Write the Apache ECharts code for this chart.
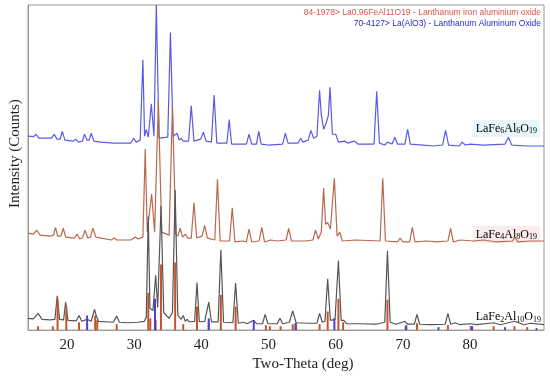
<!DOCTYPE html>
<html><head><meta charset="utf-8">
<script src="https://cdn.jsdelivr.net/npm/echarts@6/dist/echarts.min.js"></script>
<style>html,body{margin:0;padding:0;background:#fff}#c{width:550px;height:377px}</style>
</head><body><div id="c"></div>
<script>
// ---- data (2θ in deg, intensity in counts) ----
const xTicks = [20, 30, 40, 50, 60, 70, 80];
const offsets = { black: 0, red: 900, blue: 1870 };

const blackPattern = [[14.2,120],[15.0,115],[15.7,170],[16.3,110],[17.5,105],[18.2,110],[18.55,350],[18.9,110],[19.5,105],[19.8,285],[20.15,100],[21.4,95],[21.8,150],[22.2,90],[23.0,110],[23.6,90],[24.1,210],[24.35,150],[24.7,90],[26.9,80],[27.4,145],[27.8,80],[29,75],[30.5,80],[31.5,90],[31.8,130],[32.1,1160],[32.35,220],[32.55,230],[32.8,200],[33.2,560],[33.5,230],[34.0,1270],[34.4,180],[35.2,120],[35.7,180],[36.1,1430],[36.5,150],[37.0,110],[37.3,150],[37.6,90],[37.9,110],[38.2,85],[39.0,90],[39.35,485],[39.7,85],[40.5,90],[41.1,285],[41.5,85],[42.5,85],[42.9,820],[43.3,80],[44.7,75],[45.1,480],[45.5,70],[46.3,80],[46.8,65],[47.8,100],[48.2,65],[49.1,65],[49.5,160],[49.9,65],[51.3,65],[51.7,120],[52.1,65],[53.1,80],[53.6,195],[54.1,75],[56,70],[57.2,70],[57.6,170],[58.0,80],[58.4,90],[58.8,525],[59.2,100],[59.9,110],[60.4,710],[60.8,100],[61.2,100],[61.6,65],[63.5,65],[66.0,60],[67.3,80],[67.7,810],[68.1,80],[69.0,60],[70.3,90],[70.7,60],[71.7,60],[72.1,160],[72.5,60],[74,55],[76.3,60],[76.7,170],[77.1,60],[77.8,75],[78.5,55],[80.0,65],[81,55],[83.5,75],[84.5,55],[86.6,90],[88,55],[89,70],[91,55]];

const redPattern = [[14.2,90],[15.0,80],[15.5,120],[16.0,70],[17.5,60],[18.0,70],[18.3,150],[18.6,60],[19.1,60],[19.45,140],[19.8,50],[21.1,40],[21.5,80],[21.9,30],[22.3,40],[22.7,120],[23.1,40],[23.5,50],[23.85,140],[24.3,50],[26.6,20],[27.0,40],[27.4,20],[29.5,20],[30.2,50],[30.6,30],[31.3,50],[31.65,950],[31.95,100],[32.2,120],[32.6,490],[33.05,100],[33.6,1440],[34.1,100],[35.2,70],[35.7,1390],[36.2,80],[36.5,60],[36.85,140],[37.2,50],[37.6,80],[38.0,40],[38.5,40],[38.9,400],[39.3,40],[40.1,60],[40.5,170],[40.9,40],[42.0,20],[42.4,640],[42.8,10],[44.2,10],[44.6,350],[45.0,0],[46.2,10],[46.7,0],[47.1,130],[47.5,0],[48.6,10],[49.0,150],[49.4,0],[50.3,20],[51.3,10],[52.6,20],[53.0,140],[53.4,10],[55.5,10],[56.6,20],[57.0,120],[57.4,30],[57.85,100],[58.2,550],[58.5,180],[58.8,200],[59.2,130],[59.8,650],[60.2,60],[60.6,100],[61.0,10],[63.0,20],[66.6,10],[67.0,650],[67.4,10],[69.2,0],[69.6,40],[70.0,0],[71.0,0],[71.4,150],[71.8,0],[73.5,10],[75,0],[76.7,10],[77.1,140],[77.5,0],[78.5,20],[80.5,10],[82,20],[84,0],[86.3,10],[86.7,50],[87.1,0],[89,10],[91,10]];

const bluePattern = [[14.2,110],[15.0,105],[15.4,130],[15.8,90],[17.7,90],[18.1,130],[18.5,80],[19.0,80],[19.3,160],[19.7,70],[20.9,60],[21.3,80],[21.7,50],[22.3,60],[22.6,130],[23.0,70],[23.3,70],[23.6,140],[24.0,60],[25,50],[27,40],[29.5,40],[29.9,90],[30.3,50],[30.9,70],[31.3,890],[31.55,110],[31.8,180],[32.1,100],[32.55,440],[32.95,110],[33.3,1450],[33.7,90],[35.0,100],[35.4,1170],[35.8,110],[36.4,140],[36.7,70],[37.0,90],[37.3,60],[38.1,60],[38.5,420],[38.9,60],[39.9,80],[40.3,150],[40.7,60],[41.5,50],[41.9,530],[42.3,40],[43.8,40],[44.15,280],[44.5,30],[46.7,30],[47.1,130],[47.5,30],[48.2,30],[48.55,160],[48.9,30],[50,20],[52.1,30],[52.5,140],[52.9,40],[54.4,40],[54.8,90],[55.1,50],[55.9,70],[56.3,170],[56.7,90],[57.2,110],[57.6,580],[57.85,330],[58.2,180],[58.6,250],[58.9,320],[59.15,610],[59.5,130],[60.0,130],[60.4,50],[61.3,60],[61.8,40],[62.8,60],[63.3,30],[65.7,30],[66.1,570],[66.5,40],[67.3,20],[67.7,50],[68.4,30],[68.8,100],[69.2,30],[70.3,30],[70.7,180],[71.1,30],[73,20],[74.5,10],[75.9,20],[76.35,170],[76.8,20],[78.4,10],[78.8,50],[79.3,20],[80,30],[82,20],[85.2,30],[85.7,100],[86.2,20],[88.5,10],[91,10]];

// reference stick patterns (PDF cards)
const redSticks = [[15.7,40],[17.9,40],[18.6,320],[19.9,250],[21.8,80],[24.2,150],[24.5,100],[27.4,60],[32.1,380],[32.4,120],[33.2,100],[34.0,670],[36.1,690],[37.3,60],[39.35,240],[41.1,70],[42.9,360],[45.1,240],[49.6,50],[50.2,40],[51.8,40],[53.6,60],[54.1,70],[57.6,60],[58.8,190],[60.4,320],[61.1,80],[67.7,310],[70.4,40],[72.1,70],[76.7,50],[80.1,40],[83.5,40],[86.6,40],[88.5,30]];
const blueSticks = [[23.0,150],[33.1,320],[41.1,120],[47.8,100],[54.0,70],[59.8,120],[70.5,50],[75.3,30],[80.3,40],[85.2,30],[89.9,20]];

const legendLines = ['84-1978> La0.96FeAl11O19 - Lanthanum iron aluminium oxide', '70-4127> La(AlO3) - Lanthanum Aluminum Oxide'];
const sampleLabels = [['LaFe','6','Al','6','O','19'],['LaFe','4','Al','8','O','19'],['LaFe','2','Al','10','O','19']];

// ---- chart ----
const chart = echarts.init(document.getElementById('c'), null, {renderer: 'canvas'});
const shift = (arr, off) => arr.map(p => [p[0], p[1] + off]);
const richFor = (parts) => parts.map((t, i) => i % 2 === 0 ? '{a|' + t + '}' : '{s|' + t + '}').join('');
const rich = (color) => ({
  a: {fontFamily: 'Liberation Serif', fontSize: 12, color: color},
  s: {fontFamily: 'Liberation Serif', fontSize: 8, color: color, verticalAlign: 'bottom', padding: [5, 0, 0, 0]}
});

chart.setOption({
  animation: false,
  grid: {left: 24, right: 6, top: 5, bottom: 40, show: true, borderColor: '#9a9a9a', borderWidth: 1},
  xAxis: {
    type: 'value', min: 14.2, max: 91,
    name: 'Two-Theta (deg)', nameLocation: 'middle', nameGap: 24,
    nameTextStyle: {fontFamily: 'Liberation Serif', fontSize: 15, color: '#222', padding: [0, 0, 0, 34]},
    axisLine: {show: true, lineStyle: {color: '#9a9a9a', width: 1}},
    axisTick: {show: false},
    splitLine: {show: false},
    axisLabel: {customValues: xTicks, fontFamily: 'Liberation Serif', fontSize: 15, color: '#222', margin: 7}
  },
  yAxis: {
    type: 'value', min: 0, max: 3320,
    name: 'Intensity (Counts)', nameLocation: 'middle', nameGap: 5, nameRotate: 90,
    nameTextStyle: {fontFamily: 'Liberation Serif', fontSize: 15, color: '#222', padding: [0, 0, 0, 28]},
    axisLine: {show: true, lineStyle: {color: '#9a9a9a', width: 1}},
    axisTick: {show: false}, axisLabel: {show: false}, splitLine: {show: false}
  },
  series: [
    {type: 'line', data: shift(bluePattern, offsets.blue), showSymbol: false, lineStyle: {color: '#5a5ae6', width: 1.2}, z: 2},
    {type: 'line', data: shift(redPattern, offsets.red), showSymbol: false, lineStyle: {color: '#b8694e', width: 1.2}, z: 3},
    {type: 'line', data: shift(blackPattern, offsets.black), showSymbol: false, lineStyle: {color: '#555555', width: 1.2}, z: 4},
    {type: 'bar', data: redSticks, barWidth: 2, itemStyle: {color: '#c2552c'}, z: 5},
    {type: 'bar', data: blueSticks, barWidth: 2, barGap: '-100%', itemStyle: {color: '#4b3fd6'}, z: 6}
  ],
  graphic: [
    {type: 'text', right: 9, top: 8, style: {text: legendLines[0], fontFamily: 'Liberation Sans', fontSize: 8.5, fill: '#e0524a'}},
    {type: 'text', right: 9, top: 19, style: {text: legendLines[1], fontFamily: 'Liberation Sans', fontSize: 8.5, fill: '#2b2bd0'}},
    {type: 'text', right: 10, top: 120, style: {text: richFor(sampleLabels[0]), rich: rich('#4b5fd0'), backgroundColor: '#e6f6fc', padding: [2, 3, 2, 3]}},
    {type: 'text', right: 10, top: 226, style: {text: richFor(sampleLabels[1]), rich: rich('#a0523a'), backgroundColor: '#fbecec', padding: [2, 3, 2, 3]}},
    {type: 'text', right: 9, top: 311, style: {text: richFor(sampleLabels[2]), rich: rich('#444444'), padding: [2, 3, 2, 3]}}
  ]
});
</script></body></html>
